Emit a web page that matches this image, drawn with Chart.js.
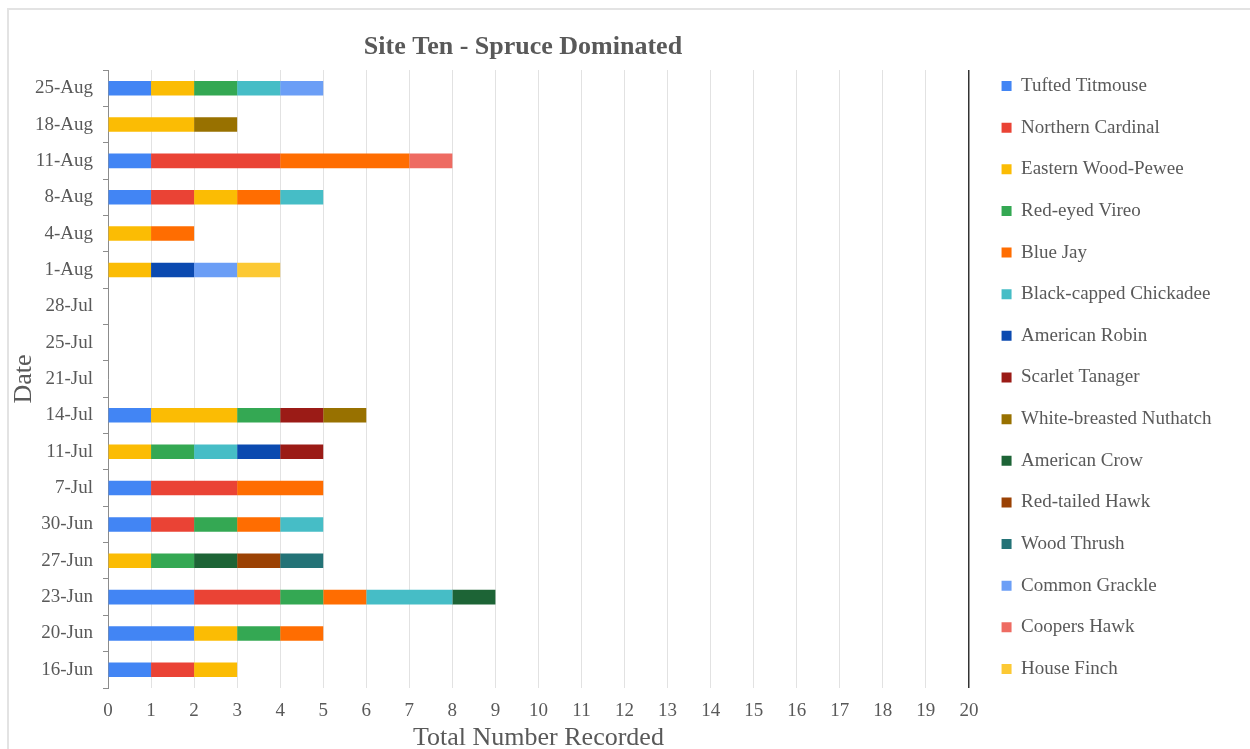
<!DOCTYPE html>
<html>
<head>
<meta charset="utf-8">
<title>Site Ten - Spruce Dominated</title>
<script src="https://cdn.jsdelivr.net/npm/chart.js@4/dist/chart.umd.min.js"></script>
<style>
  html, body { margin: 0; padding: 0; background: #ffffff; }
  #frame {
    position: absolute; left: 7px; top: 8px; right: 0; bottom: 0;
    border-left: 2px solid #e3e3e3; border-top: 2px solid #e3e3e3;
  }
  #chart { position: absolute; left: 0; top: 0; z-index: 1; }
</style>
</head>
<body>
<div id="frame"></div>
<canvas id="chart" width="1250" height="749"></canvas>
<script>
// Survey dates (chronological, drawn bottom to top)
const dates = ['16-Jun','20-Jun','23-Jun','27-Jun','30-Jun','7-Jul','11-Jul','14-Jul',
               '21-Jul','25-Jul','28-Jul','1-Aug','4-Aug','8-Aug','11-Aug','18-Aug','25-Aug'];

// Birds recorded per species on each date
const tuftedTitmouse       = [1,2,2,0,1,1,0,1,0,0,0,0,0,1,1,0,1];
const northernCardinal     = [1,0,2,0,1,2,0,0,0,0,0,0,0,1,3,0,0];
const easternWoodPewee     = [1,1,0,1,0,0,1,2,0,0,0,1,1,1,0,2,1];
const redEyedVireo         = [0,1,1,1,1,0,1,1,0,0,0,0,0,0,0,0,1];
const blueJay              = [0,1,1,0,1,2,0,0,0,0,0,0,1,1,3,0,0];
const blackCappedChickadee = [0,0,2,0,1,0,1,0,0,0,0,0,0,1,0,0,1];
const americanRobin        = [0,0,0,0,0,0,1,0,0,0,0,1,0,0,0,0,0];
const scarletTanager       = [0,0,0,0,0,0,1,1,0,0,0,0,0,0,0,0,0];
const whiteBreastedNuthatch= [0,0,0,0,0,0,0,1,0,0,0,0,0,0,0,1,0];
const americanCrow         = [0,0,1,1,0,0,0,0,0,0,0,0,0,0,0,0,0];
const redTailedHawk        = [0,0,0,1,0,0,0,0,0,0,0,0,0,0,0,0,0];
const woodThrush           = [0,0,0,1,0,0,0,0,0,0,0,0,0,0,0,0,0];
const commonGrackle        = [0,0,0,0,0,0,0,0,0,0,0,1,0,0,0,0,1];
const coopersHawk          = [0,0,0,0,0,0,0,0,0,0,0,0,0,0,1,0,0];
const houseFinch           = [0,0,0,0,0,0,0,0,0,0,0,1,0,0,0,0,0];

// Value axis tick range
const xMin = 0;
const xMax = 20;

const serif = "'Liberation Serif', 'Times New Roman', serif";
const textGray = '#595959';

const series = [
  ['Tufted Titmouse',         tuftedTitmouse,        '#4285F4'],
  ['Northern Cardinal',       northernCardinal,      '#EA4335'],
  ['Eastern Wood-Pewee',      easternWoodPewee,      '#FBBC04'],
  ['Red-eyed Vireo',          redEyedVireo,          '#34A853'],
  ['Blue Jay',                blueJay,               '#FF6D01'],
  ['Black-capped Chickadee',  blackCappedChickadee,  '#46BDC6'],
  ['American Robin',          americanRobin,         '#0B4AB0'],
  ['Scarlet Tanager',         scarletTanager,        '#9B1B16'],
  ['White-breasted Nuthatch', whiteBreastedNuthatch, '#987100'],
  ['American Crow',           americanCrow,          '#1D6436'],
  ['Red-tailed Hawk',         redTailedHawk,         '#9B4204'],
  ['Wood Thrush',             woodThrush,            '#247377'],
  ['Common Grackle',          commonGrackle,         '#6B9EF6'],
  ['Coopers Hawk',            coopersHawk,           '#EE6B62'],
  ['House Finch',             houseFinch,            '#FCC934']
];

const datasets = series.map(([label, data, color]) => ({
  label, data,
  backgroundColor: color,
  borderWidth: 0,
  barPercentage: 0.4,
  categoryPercentage: 1.0
}));

// Small layout adjustments: title sits a little left of the plot centre,
// legend entries sit a little further from the plot's right edge
const layoutTweaks = {
  id: 'layoutTweaks',
  afterLayout(chart) {
    if (chart.titleBlock) chart.titleBlock.left -= 31;
    if (chart.legend) { chart.legend.left += 10; chart.legend.right += 10; }
  }
};

new Chart(document.getElementById('chart'), {
  type: 'bar',
  data: { labels: dates, datasets },
  plugins: [layoutTweaks],
  options: {
    indexAxis: 'y',
    responsive: false,
    animation: false,
    layout: { padding: { left: 7, top: 6, right: 38.5, bottom: 0 } },
    plugins: {
      tooltip: { enabled: false },
      title: {
        display: true,
        text: 'Site Ten - Spruce Dominated',
        color: textGray,
        fullSize: false,
        font: { family: serif, size: 26, weight: 'bold', lineHeight: 1.2 },
        padding: { top: 25.5, bottom: 7.3 }
      },
      legend: {
        position: 'right',
        align: 'center',
        fullSize: true,
        labels: {
          color: textGray,
          font: { family: serif, size: 19 },
          boxWidth: 10,
          boxHeight: 10,
          padding: 22.64
        }
      }
    },
    scales: {
      x: {
        stacked: true,
        min: xMin,
        max: xMax,
        ticks: {
          stepSize: 1,
          color: textGray,
          font: { family: serif, size: 19 },
          padding: 12,
          maxRotation: 0
        },
        grid: {
          color: ctx => (ctx.tick && ctx.tick.value === xMax) ? '#333333' : '#e2e2e2',
          lineWidth: ctx => (ctx.tick && ctx.tick.value === xMax) ? 1.5 : 1,
          drawTicks: false
        },
        border: { display: false },
        title: {
          display: true,
          text: 'Total Number Recorded',
          color: textGray,
          font: { family: serif, size: 26, lineHeight: 0.85 },
          padding: { top: 0, bottom: 0 }
        },
        afterFit(scale) { scale.height = 61; }
      },
      y: {
        stacked: true,
        reverse: true,
        ticks: {
          color: textGray,
          font: { family: serif, size: 19 },
          padding: 10,
          autoSkip: false
        },
        grid: {
          drawOnChartArea: false,
          drawTicks: true,
          tickLength: 5,
          color: '#8c8c8c',
          offset: true
        },
        border: { display: true, color: '#8c8c8c', width: 1 },
        title: {
          display: true,
          text: 'Date',
          color: textGray,
          font: { family: serif, size: 26, lineHeight: 1.0 },
          padding: { top: 4, bottom: 0 }
        },
        afterFit(scale) { scale.width = 101; }
      }
    }
  }
});
</script>
</body>
</html>
